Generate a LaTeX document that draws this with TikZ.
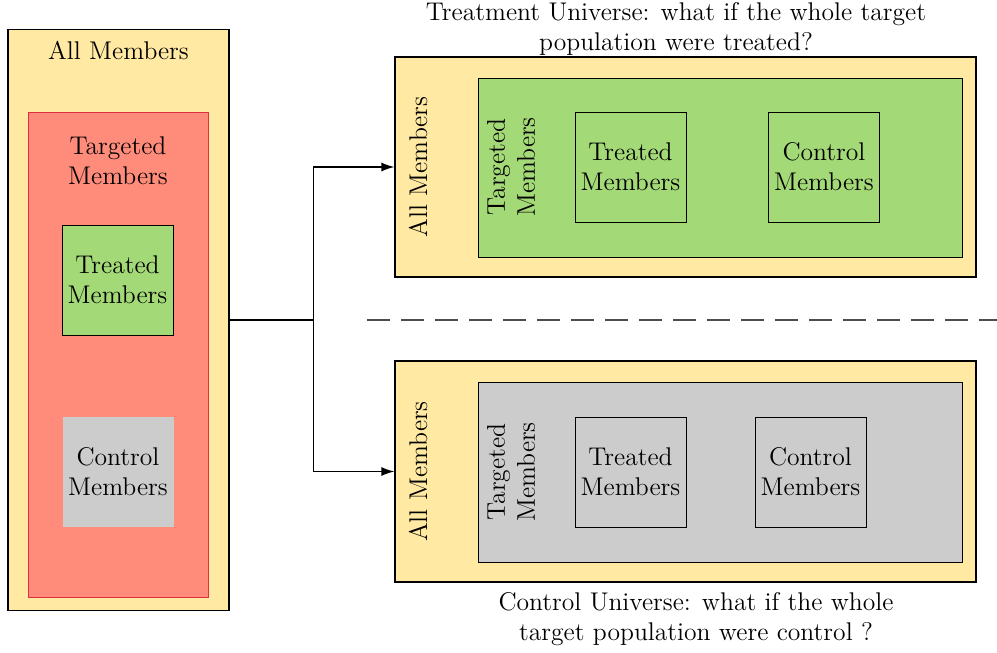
\documentclass[tikz,border=0pt]{standalone}
\usetikzlibrary{arrows.meta,backgrounds}

\definecolor{allyellow}{HTML}{FFE9A3}
\definecolor{targetred}{HTML}{FF8C7B}
\definecolor{targetedge}{HTML}{E0303F}
\definecolor{treatgreen}{HTML}{A4D977}
\definecolor{ctrlgray}{HTML}{CCCCCC}

\begin{document}
\begin{tikzpicture}[x=0.5pt,y=-0.5pt,
    every node/.style={font=\fontsize{12.8}{15}\selectfont},
    universe/.style={draw,line width=0.6pt,fill=allyellow,inner sep=0pt},
    flow/.style={line width=0.7pt,-{Latex[length=6.5pt,width=4.5pt]}}]

    % `group' is a plain box of members.
    % `member' is a bordered inner box.
    % `sideways' is a label read bottom to top.
    \tikzstyle{group} = [draw,line width=0.5pt,inner sep=0pt]
    \tikzstyle{member} = [group,minimum width=55.5pt,minimum height=55pt,align=center]
    \tikzstyle{sideways} = [rotate=90,align=center,inner sep=0pt]

    \useasboundingbox (0,0) rectangle (997,653);

    % Whole population, left.
    \node[universe,minimum width=110.5pt,minimum height=290.5pt] (all) at (118.5,320) {};
    \node (alllabel) at (118.5,50) {All Members};
    \node[group,draw=targetedge,fill=targetred,minimum width=90pt,minimum height=242.5pt] (target) at (118,354.5) {};
    \node[align=center] (targetlabel) at (118,161) {Targeted\\Members};
    \node[member,fill=treatgreen] (treated) at (117.5,280) {Treated\\Members};
    \node[member,draw=none,fill=ctrlgray] (control) at (118,471.5) {Control\\Members};

    % Treatment universe.
    \node[align=center] (toptitle) at (676,28.5)
        {Treatment Universe: what if the whole target\\population were treated?};
    \node[universe,minimum width=290.5pt,minimum height=110pt] (topall) at (685.5,167) {};
    \node[sideways] (topalllabel) at (418,167) {All Members};
    \node[group,fill=treatgreen,minimum width=242pt,minimum height=89.5pt] (toptarget) at (720,167.5) {};
    \node[sideways] (toptargetlabel) at (511,167) {Targeted\\Members};
    \node[member] (toptreated) at (630.5,167) {Treated\\Members};
    \node[member] (topcontrol) at (824,167) {Control\\Members};

    % Control universe.
    \node[universe,minimum width=290.5pt,minimum height=110.5pt] (botall) at (685.5,471.5) {};
    \node[sideways] (botalllabel) at (418,471.5) {All Members};
    \node[group,fill=ctrlgray,minimum width=242pt,minimum height=90pt] (bottarget) at (720,472) {};
    \node[sideways] (bottargetlabel) at (511,472) {Targeted\\Members};
    \node[member] (bottreated) at (630.5,472) {Treated\\Members};
    \node[member] (botcontrol) at (810.5,472) {Control\\Members};
    \node[align=center] (bottitle) at (696,619)
        {Control Universe: what if the whole\\target population were control ?};

    % Split and divider.
    \coordinate (split) at ([xshift=42pt]all.east);
    \coordinate (dashstart) at (367,320);
    \coordinate (dashend) at (997,320);
    \draw[line width=0.8pt] (all.east) -- (split);
    \draw[flow] (split) |- (topall.west);
    \draw[flow] (split) |- (botall.west);
    \draw[line width=1pt,draw=black!70,dash pattern=on 11.5pt off 5.5pt,dash phase=17pt] (dashstart) -- (dashend);
\end{tikzpicture}
\end{document}
